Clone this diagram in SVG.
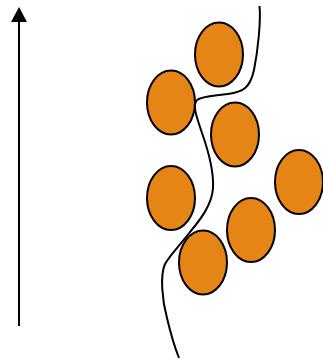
<svg xmlns="http://www.w3.org/2000/svg" width="323" height="360" viewBox="0 0 323 360">
<style>
.c{fill:#e58515;stroke:#000;stroke-width:2}
.l{fill:none;stroke:#000;stroke-width:2}
</style>
<rect width="323" height="360" fill="#fff"/>
<g id="connectors">
<line class="l" x1="19" y1="326" x2="19" y2="20"/>
<polygon points="19,7 11,22 27,22" fill="#000"/>
<path class="l" d="M259.5,6 C261,20 258,50 254,70 C250,88 243,92 228,94 C214,96 202,96 197,100 C192,105 197,118 202,133 C208,150 214,170 213,188 C212,205 200,220 190,232 C180,245 170,255 165,264 C160,275 162,300 167,318 C171,335 175,348 179,358"/>
</g>
<g id="e1"><ellipse class="c" cx="219" cy="54.5" rx="24" ry="32"/></g>
<g id="e2"><ellipse class="c" cx="171" cy="102.5" rx="24" ry="32"/></g>
<g id="e3"><ellipse class="c" cx="235" cy="134.5" rx="24" ry="32"/></g>
<g id="e4"><ellipse class="c" cx="299" cy="182" rx="24" ry="32"/></g>
<g id="e5"><ellipse class="c" cx="171" cy="198" rx="24" ry="32"/></g>
<g id="e6"><ellipse class="c" cx="251" cy="230" rx="24" ry="32"/></g>
<g id="e7"><ellipse class="c" cx="203" cy="262.5" rx="24" ry="32"/></g>
</svg>
